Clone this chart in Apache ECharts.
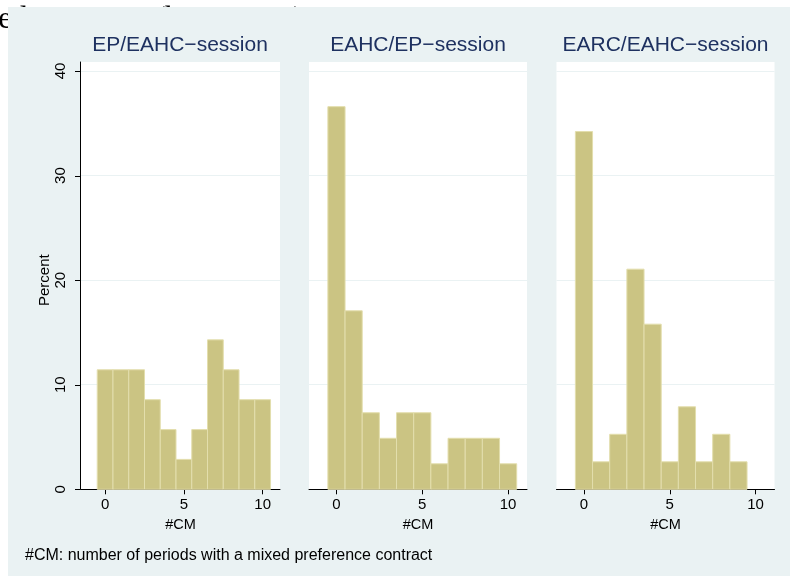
<!DOCTYPE html>
<html>
<head>
<meta charset="utf-8">
<script src="https://cdn.jsdelivr.net/npm/echarts@6/dist/echarts.min.js"></script>
<style>
  html, body { margin: 0; padding: 0; background: #ffffff; }
  #chart { width: 790px; height: 579px; }
</style>
</head>
<body>
<div id="chart"></div>
<script>
// Histogram of #CM per session: percent of subjects in each one-period bin
const panelTitles = ['EP/EAHC\u2212session', 'EAHC/EP\u2212session', 'EARC/EAHC\u2212session'];
const binCenters = [0, 1, 2, 3, 4, 5, 6, 7, 8, 9, 10];
const pctEpEahc = [11.43, 11.43, 11.43, 8.57, 5.71, 2.86, 5.71, 14.29, 11.43, 8.57, 8.57];
const pctEahcEp = [36.59, 17.07, 7.32, 4.88, 7.32, 7.32, 2.44, 4.88, 4.88, 4.88, 2.44];
const pctEarcEahc = [34.21, 2.63, 5.26, 21.05, 15.79, 2.63, 7.89, 2.63, 5.26, 2.63];
const xTicks = [0, 5, 10];
const yTicks = [0, 10, 20, 30, 40];
const xTitle = '#CM';
const yTitle = 'Percent';
const noteText = '#CM: number of periods with a mixed preference contract';
const captionText = 'mixed contracts (by session)';

const panelValues = [pctEpEahc, pctEahcEp, pctEarcEahc];

const BG = '#EAF2F3';
const BAR_FILL = '#CBC483';
const BAR_EDGE = '#E3DEAD';
const TITLE_COLOR = '#1E3160';
const AXIS_COLOR = '#000000';
const TICK_LEN = 5;
const FONT = '"Liberation Sans", Arial, Helvetica, sans-serif';

const chart = echarts.init(document.getElementById('chart'), null, { renderer: 'canvas' });

// Panel frames: the white plot region starts a little above the top tick
const panels = [
  { left: 81, width: 199, xMin: -1.53 },
  { left: 309, width: 218, xMin: -1.6 },
  { left: 556.5, width: 218, xMin: -1.6 }
];
const X_MAX = 11.1;
const REGION_TOP = 62, PLOT_TOP = 71, PLOT_BOTTOM = 489.3;
const Y_MIN = yTicks[0], Y_MAX = yTicks[yTicks.length - 1], Y_STEP = yTicks[1] - yTicks[0];

// grids 0..2: white panel regions; grids 3..5: the scaled plot areas
const grids = panels.map(p => ({
  left: p.left, width: p.width, top: REGION_TOP, height: PLOT_BOTTOM - REGION_TOP,
  show: true, backgroundColor: '#ffffff', borderWidth: 0
})).concat(panels.map(p => ({
  left: p.left, width: p.width, top: PLOT_TOP, height: PLOT_BOTTOM - PLOT_TOP,
  show: false
})));

const xAxes = panels.map((p, i) => ({
  gridIndex: i, type: 'value', min: 0, max: 1, show: false
})).concat(panels.map((p, i) => ({
  gridIndex: 3 + i,
  type: 'value',
  min: p.xMin,
  max: X_MAX,
  axisLine: { show: true, onZero: false, lineStyle: { color: AXIS_COLOR, width: 1 } },
  axisTick: { show: true, length: TICK_LEN, customValues: xTicks, lineStyle: { color: AXIS_COLOR, width: 1 } },
  axisLabel: { customValues: xTicks, fontSize: 15, color: '#000000', margin: 8, fontFamily: FONT },
  splitLine: { show: false },
  name: xTitle,
  nameLocation: 'middle',
  nameGap: 25,
  nameTextStyle: { fontSize: 14.5, color: '#000000', fontFamily: FONT }
})));

const yAxes = panels.map((p, i) => ({
  gridIndex: i,
  type: 'value',
  min: 0,
  max: 1,
  position: 'left',
  offset: 1,
  axisLine: { show: i === 0, onZero: false, lineStyle: { color: AXIS_COLOR, width: 1 } },
  axisTick: { show: false },
  axisLabel: { show: false },
  splitLine: { show: false }
})).concat(panels.map((p, i) => ({
  gridIndex: 3 + i,
  type: 'value',
  position: 'left',
  offset: 1,
  min: Y_MIN,
  max: Y_MAX,
  interval: Y_STEP,
  axisLine: { show: false, onZero: false },
  axisTick: { show: false },
  axisLabel: {
    show: i === 0,
    rotate: 90,
    fontSize: 15,
    color: '#000000',
    margin: 12,
    fontFamily: FONT
  },
  splitLine: { show: true, lineStyle: { color: BG, width: 1.2 } },
  name: i === 0 ? yTitle : '',
  nameLocation: 'middle',
  nameRotate: 90,
  nameGap: 28,
  nameTextStyle: { fontSize: 15, color: '#000000', fontFamily: FONT }
})));

function renderBin(params, api) {
  const x = api.value(0);
  const y = api.value(1);
  if (!(y > 0)) return null;
  const topLeft = api.coord([x - 0.5, y]);
  const bottomRight = api.coord([x + 0.5, 0]);
  return {
    type: 'rect',
    shape: {
      x: topLeft[0],
      y: topLeft[1],
      width: bottomRight[0] - topLeft[0],
      height: bottomRight[1] - topLeft[1]
    },
    style: { fill: BAR_FILL, stroke: BAR_EDGE, lineWidth: 1 }
  };
}

// Tick marks of the Percent axis, placed through the panel's y scale
function renderYTick(params, api) {
  const p = api.coord([api.value(0), api.value(1)]);
  const y = Math.round(p[1]) + 0.5;
  return {
    type: 'line',
    shape: { x1: p[0] - 1 - TICK_LEN, y1: y, x2: p[0] - 0.5, y2: y },
    style: { stroke: AXIS_COLOR, lineWidth: 1 }
  };
}

const series = panelValues.map((vals, i) => ({
  type: 'custom',
  xAxisIndex: 3 + i,
  yAxisIndex: 3 + i,
  renderItem: renderBin,
  encode: { x: 0, y: 1 },
  data: vals.map((v, k) => [binCenters[k], v]),
  silent: true,
  animation: false
})).concat([{
  type: 'custom',
  xAxisIndex: 3,
  yAxisIndex: 3,
  renderItem: renderYTick,
  encode: { x: 0, y: 1 },
  data: yTicks.map(v => [panels[0].xMin, v]),
  clip: false,
  silent: true,
  animation: false
}]);

const titles = panels.map((p, i) => ({
  text: panelTitles[i],
  left: (i === 0 ? p.left - 1 : p.left) + (i === 0 ? p.width + 1 : p.width) / 2,
  top: 35,
  textAlign: 'center',
  padding: 0,
  textStyle: { fontSize: 21, fontWeight: 'normal', color: TITLE_COLOR, fontFamily: FONT }
}));

chart.setOption({
  animation: false,
  backgroundColor: '#ffffff',
  textStyle: { fontFamily: FONT },
  title: titles,
  grid: grids,
  xAxis: xAxes,
  yAxis: yAxes,
  series: series,
  graphic: [
    {
      type: 'text',
      z: -2,
      left: -50,
      top: 4,
      style: {
        text: captionText,
        fill: '#000000',
        font: '31px "Liberation Serif", "Times New Roman", serif'
      }
    },
    {
      type: 'rect',
      z: -1,
      shape: { x: 8, y: 7, width: 782, height: 569 },
      style: { fill: BG }
    },
    {
      type: 'text',
      left: 25,
      top: 548,
      style: {
        text: noteText,
        fill: '#000000',
        font: '16px "Liberation Sans", Arial, sans-serif'
      }
    }
  ]
});
</script>
</body>
</html>
